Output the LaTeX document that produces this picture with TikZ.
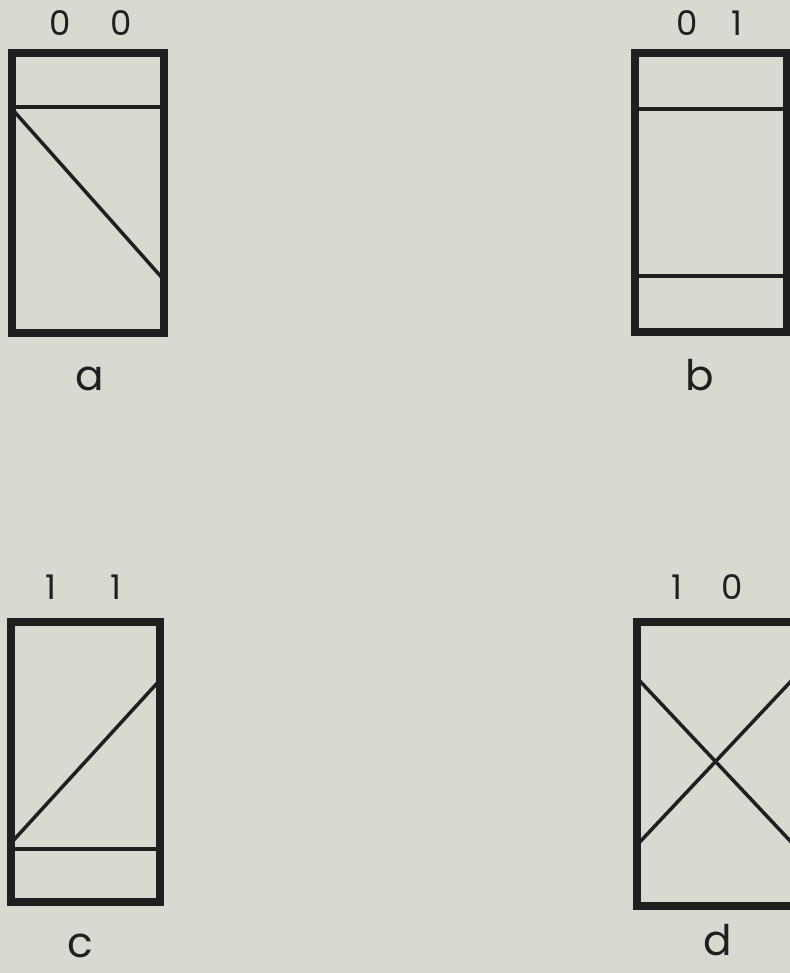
\documentclass[tikz,border=0pt]{standalone}
\usepackage{fontspec}
\setmainfont{Poppins}
\definecolor{paper}{RGB}{216,217,209}
\definecolor{ink}{RGB}{32,30,30}

\begin{document}
\begin{tikzpicture}[
    x=0.03cm, y=-0.03cm,
    frame/.style={draw=ink,line width=6.4pt,line join=miter},
    wire/.style={draw=ink,line width=3pt},
    bit/.style={text=ink,font=\fontsize{29}{29}\selectfont,anchor=base,inner sep=0pt},
    tag/.style={text=ink,font=\fontsize{36}{36}\selectfont,anchor=base,inner sep=0pt,text depth=0pt}
]
\fill[paper] (0,0) rectangle (790,973);
\useasboundingbox (0,0) rectangle (790,973);
\clip (0,0) rectangle (790,973);

% a: 0 0
\draw[wire] (12,107)--(164,107);
\draw[wire] (12,109)--(164,280);
\draw[frame] (12,53) rectangle (164,333);
\node[bit] (a1) at (60,35) {0};
\node[bit] (a2) at (121,35) {0};
\node[tag] (a) at (90,390) {a};

% b: 0 1
\draw[wire] (635,109)--(787,109);
\draw[wire] (635,276)--(787,276);
\draw[frame] (635,53) rectangle (787,332);
\node[bit] (b1) at (687,35) {0};
\node[bit] (b2) at (737,35) {1};
\node[tag] (b) at (700,390) {b};

% c: 1 1
\draw[wire] (11,849)--(160,849);
\draw[wire] (11,843)--(160,680);
\draw[frame] (11,622) rectangle (160,902);
\node[bit] (c1) at (51,599) {1};
\node[bit] (c2) at (116,599) {1};
\node[tag] (c) at (80,957) {c};

% d: 1 0
\draw[wire] (637,678)--(794,845);
\draw[wire] (637,845)--(794,678);
\draw[frame] (637,622) rectangle (794,906);
\node[bit] (d1) at (677,599) {1};
\node[bit] (d2) at (732,599) {0};
\node[tag] (d) at (718,955) {d};
\end{tikzpicture}
\end{document}
